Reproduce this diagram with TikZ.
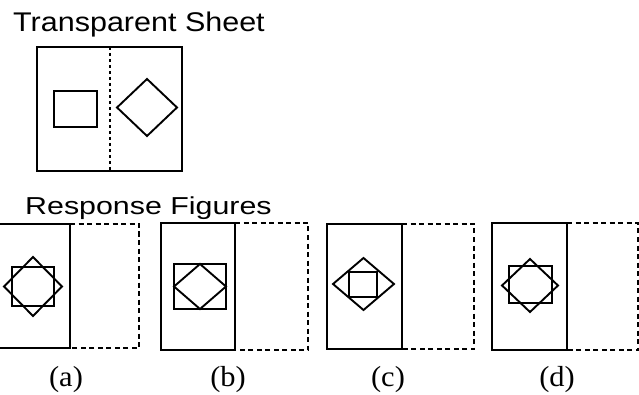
\documentclass[tikz,border=0pt]{standalone}
\usepackage{fontspec}
\setmainfont{Liberation Serif}
\newfontfamily\arialf{Liberation Sans}
\begin{document}
\begin{tikzpicture}[x=1pt,y=-1pt,
 solidline/.style={line width=2.1pt, line join=miter},
 dashline/.style={line width=2pt, dash pattern=on 5pt off 3.5pt},
 dotline/.style={line width=2pt, dash pattern=on 3pt off 3pt},
 shapeline/.style={line width=1.9pt, line join=miter},
 title/.style={anchor=base west, inner sep=0pt},
 lab/.style={anchor=base, inner sep=0pt, font=\fontsize{29}{32}\selectfont}]
\useasboundingbox (0,0) rectangle (639,395);
% titles
\node[title] (t1) at (13,32) {\arialf\fontsize{27}{30}\selectfont\scalebox{1.13}[1]{Transparent Sheet}};
\node[title] (t2) at (25,214.3) {\arialf\fontsize{24.5}{28}\selectfont\scalebox{1.24}[1]{Response Figures}};
% transparent sheet
\draw[solidline] (37,47) rectangle (182,171);
\draw[dotline] (110,47) -- (110,171);
\draw[shapeline] (54,91) rectangle (97,127);
\draw[shapeline] (117,107.5) -- (147,79) -- (177,107.5) -- (147,136) -- cycle;
% (a)
\draw[solidline] (-2,224) -- (70,224) -- (70,348) -- (-2,348);
\draw[dashline] (70,224) -- (139,224) -- (139,348) -- (70,348);
\draw[shapeline] (12,267) rectangle (54,306);
\draw[shapeline] (4,286.5) -- (33,257) -- (62,286.5) -- (33,316) -- cycle;
% (b)
\draw[solidline] (161,223) rectangle (235,350);
\draw[dashline] (235,223) -- (308,223) -- (308,350) -- (235,350);
\draw[shapeline] (174,264) rectangle (226,309);
\draw[shapeline] (174,286.5) -- (200,264) -- (226,286.5) -- (200,309) -- cycle;
% (c)
\draw[solidline] (327,224) rectangle (402,349);
\draw[dashline] (402,224) -- (474,224) -- (474,349) -- (402,349);
\draw[shapeline] (349,272) rectangle (377,297);
\draw[shapeline] (333,284) -- (363.5,258) -- (394,284) -- (363.5,310) -- cycle;
% (d)
\draw[solidline] (492,223) rectangle (567,350);
\draw[dashline] (567,223) -- (638,223) -- (638,350) -- (567,350);
\draw[shapeline] (509,266) rectangle (552,303);
\draw[shapeline] (502,285.5) -- (530,259) -- (558,285.5) -- (530,312) -- cycle;
% labels
\node[lab] (la) at (66,386) {\scalebox{1.05}[1]{(a)}};
\node[lab] (lb) at (228,386) {\scalebox{1.05}[1]{(b)}};
\node[lab] (lc) at (388,386) {\scalebox{1.05}[1]{(c)}};
\node[lab] (ld) at (557,386) {\scalebox{1.05}[1]{(d)}};
\end{tikzpicture}
\end{document}
